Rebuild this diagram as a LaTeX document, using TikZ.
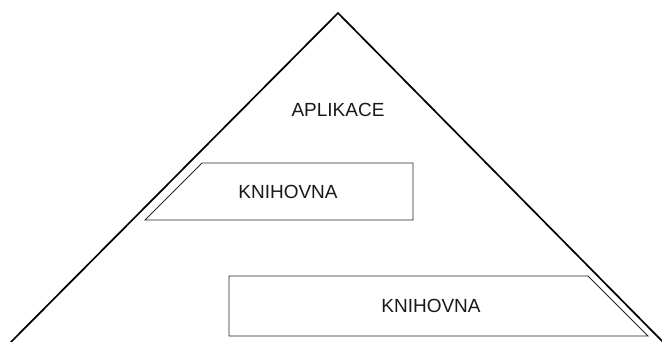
\documentclass[tikz,border=0pt]{standalone}
\usepackage{fontspec}
\setmainfont{Liberation Sans}
\begin{document}
\begin{tikzpicture}[x=1pt,y=-1pt,
  layer/.style={draw=black!85, line width=0.9pt, line join=miter},
  outline/.style={draw=black, line width=1.7pt, line join=miter},
  label/.style={font=\fontsize{19}{22}\selectfont, text=black!90}]
  \useasboundingbox (0,0) rectangle (662,341);
  % outer pyramid
  \draw[outline] (10,343) -- (338,13) -- (664,343);
  % upper library block
  \draw[layer] (202,163) -- (413,163) -- (413,220) -- (145,220) -- cycle;
  % lower library block
  \draw[layer] (229,276) -- (588,276) -- (648,336) -- (229,336) -- cycle;
  \node[label] (app) at (338,110) {APLIKACE};
  \node[label] (lib1) at (288,192) {KNIHOVNA};
  \node[label] (lib2) at (431,306) {KNIHOVNA};
\end{tikzpicture}
\end{document}
